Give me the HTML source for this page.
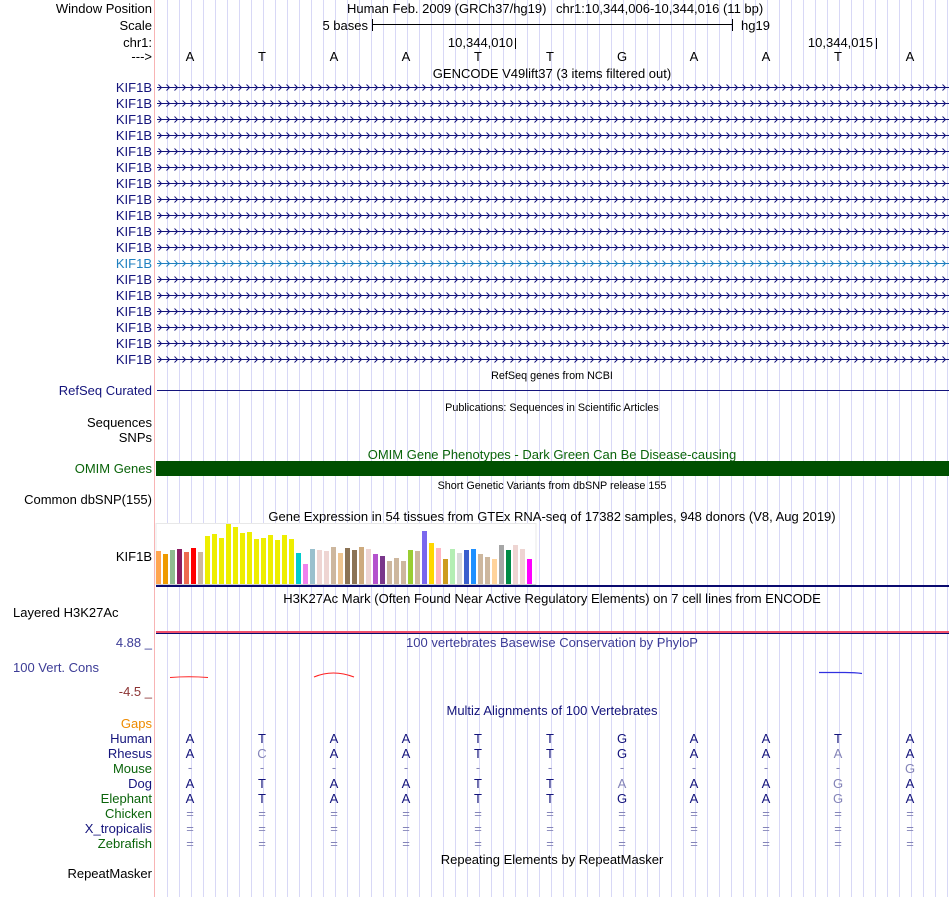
<!DOCTYPE html>
<html><head><meta charset="utf-8">
<style>
body{margin:0;background:#fff}
svg{display:block}
text{font-family:"Liberation Sans",Arial,sans-serif;font-size:13px}
.s{font-size:10.8px}
.nv{fill:#14147c}
.lb{fill:#8484b8}
.gr{fill:#0a640a}
.pc{fill:#3c3c96}
</style></head>
<body>
<svg width="950" height="897" xmlns="http://www.w3.org/2000/svg">
<defs>
<pattern id="grid" patternUnits="userSpaceOnUse" x="167" y="0" width="12" height="10">
<rect x="0" y="0" width="1" height="10" fill="#d8d8f6"/>
</pattern>
<pattern id="cv" patternUnits="userSpaceOnUse" x="157" y="79" width="8" height="16">
<path d="M1.5,5.5 L4.5,8.5 L1.5,11.5" stroke="#14147c" fill="none" stroke-width="1"/>
</pattern>
<pattern id="cv2" patternUnits="userSpaceOnUse" x="157" y="79" width="8" height="16">
<path d="M1.5,5.5 L4.5,8.5 L1.5,11.5" stroke="#2080c0" fill="none" stroke-width="1"/>
</pattern>
</defs>
<rect width="950" height="897" fill="#fff"/>
<rect x="157" y="0" width="793" height="897" fill="url(#grid)"/>
<rect x="154" y="0" width="1" height="897" fill="#f8b4b4"/>

<!-- header -->
<text x="152" y="13" text-anchor="end">Window Position</text>
<text x="347" y="13">Human Feb. 2009 (GRCh37/hg19)</text>
<text x="556" y="13">chr1:10,344,006-10,344,016 (11 bp)</text>
<text x="152" y="30" text-anchor="end">Scale</text>
<text x="368" y="30" text-anchor="end">5 bases</text>
<rect x="372" y="24" width="361" height="1" fill="#000"/>
<rect x="372" y="19" width="1" height="12" fill="#000"/>
<rect x="732" y="19" width="1" height="12" fill="#000"/>
<text x="741" y="30">hg19</text>
<text x="152" y="47" text-anchor="end">chr1:</text>
<text x="513" y="47" text-anchor="end">10,344,010</text>
<rect x="515" y="38" width="1" height="11" fill="#000"/>
<text x="873" y="47" text-anchor="end">10,344,015</text>
<rect x="876" y="38" width="1" height="11" fill="#000"/>
<text x="152" y="61" text-anchor="end">---&gt;</text>
<g text-anchor="middle">
<text x="190" y="61">A</text><text x="262" y="61">T</text><text x="334" y="61">A</text><text x="406" y="61">A</text><text x="478" y="61">T</text><text x="550" y="61">T</text><text x="622" y="61">G</text><text x="694" y="61">A</text><text x="766" y="61">A</text><text x="838" y="61">T</text><text x="910" y="61">A</text>
</g>
<text x="552" y="78" text-anchor="middle">GENCODE V49lift37 (3 items filtered out)</text>

<!-- KIF1B rows -->
<rect x="157" y="79" width="792" height="176" fill="url(#cv)"/>
<rect x="157" y="255" width="792" height="16" fill="url(#cv2)"/>
<rect x="157" y="271" width="792" height="96" fill="url(#cv)"/>
<g fill="#14147c">
<rect x="157" y="87" width="792" height="1"/><rect x="157" y="103" width="792" height="1"/><rect x="157" y="119" width="792" height="1"/><rect x="157" y="135" width="792" height="1"/><rect x="157" y="151" width="792" height="1"/><rect x="157" y="167" width="792" height="1"/><rect x="157" y="183" width="792" height="1"/><rect x="157" y="199" width="792" height="1"/><rect x="157" y="215" width="792" height="1"/><rect x="157" y="231" width="792" height="1"/><rect x="157" y="247" width="792" height="1"/>
<rect x="157" y="279" width="792" height="1"/><rect x="157" y="295" width="792" height="1"/><rect x="157" y="311" width="792" height="1"/><rect x="157" y="327" width="792" height="1"/><rect x="157" y="343" width="792" height="1"/><rect x="157" y="359" width="792" height="1"/>
</g>
<rect x="157" y="263" width="792" height="1" fill="#2080c0"/>
<g text-anchor="end" class="nv">
<text x="152" y="92">KIF1B</text><text x="152" y="108">KIF1B</text><text x="152" y="124">KIF1B</text><text x="152" y="140">KIF1B</text><text x="152" y="156">KIF1B</text><text x="152" y="172">KIF1B</text><text x="152" y="188">KIF1B</text><text x="152" y="204">KIF1B</text><text x="152" y="220">KIF1B</text><text x="152" y="236">KIF1B</text><text x="152" y="252">KIF1B</text>
<text x="152" y="268" style="fill:#2080c0">KIF1B</text>
<text x="152" y="284">KIF1B</text><text x="152" y="300">KIF1B</text><text x="152" y="316">KIF1B</text><text x="152" y="332">KIF1B</text><text x="152" y="348">KIF1B</text><text x="152" y="364">KIF1B</text>
</g>

<!-- RefSeq -->
<text class="s" x="552" y="379" text-anchor="middle">RefSeq genes from NCBI</text>
<text class="nv" x="152" y="395" text-anchor="end">RefSeq Curated</text>
<rect x="157" y="390" width="792" height="1" fill="#14147c"/>
<text class="s" x="552" y="411" text-anchor="middle">Publications: Sequences in Scientific Articles</text>
<text x="152" y="427" text-anchor="end">Sequences</text>
<text x="152" y="442" text-anchor="end">SNPs</text>
<text class="gr" x="552" y="459" text-anchor="middle">OMIM Gene Phenotypes - Dark Green Can Be Disease-causing</text>
<text class="gr" x="152" y="473" text-anchor="end">OMIM Genes</text>
<rect x="156" y="461" width="793" height="15" fill="#005000"/>
<text class="s" x="552" y="489" text-anchor="middle">Short Genetic Variants from dbSNP release 155</text>
<text x="152" y="504" text-anchor="end">Common dbSNP(155)</text>

<!-- GTEx -->
<text x="552" y="521" text-anchor="middle">Gene Expression in 54 tissues from GTEx RNA-seq of 17382 samples, 948 donors (V8, Aug 2019)</text>
<rect x="156" y="523.5" width="380" height="61" fill="#fff" stroke="#e8e8e8" stroke-width="1"/>
<text x="152" y="561" text-anchor="end">KIF1B</text>
<g>
<rect x="156" y="551" width="5" height="33" fill="#FFA54F"/>
<rect x="163" y="554" width="5" height="30" fill="#EE9A00"/>
<rect x="170" y="550" width="5" height="34" fill="#8FBC8F"/>
<rect x="177" y="549" width="5" height="35" fill="#8B1C62"/>
<rect x="184" y="552" width="5" height="32" fill="#EE6A50"/>
<rect x="191" y="548" width="5" height="36" fill="#FF0000"/>
<rect x="198" y="552" width="5" height="32" fill="#CDB79E"/>
<rect x="205" y="536" width="5" height="48" fill="#EEEE00"/>
<rect x="212" y="534" width="5" height="50" fill="#EEEE00"/>
<rect x="219" y="538" width="5" height="46" fill="#EEEE00"/>
<rect x="226" y="524" width="5" height="60" fill="#EEEE00"/>
<rect x="233" y="527" width="5" height="57" fill="#EEEE00"/>
<rect x="240" y="533" width="5" height="51" fill="#EEEE00"/>
<rect x="247" y="532" width="5" height="52" fill="#EEEE00"/>
<rect x="254" y="539" width="5" height="45" fill="#EEEE00"/>
<rect x="261" y="538" width="5" height="46" fill="#EEEE00"/>
<rect x="268" y="535" width="5" height="49" fill="#EEEE00"/>
<rect x="275" y="540" width="5" height="44" fill="#EEEE00"/>
<rect x="282" y="535" width="5" height="49" fill="#EEEE00"/>
<rect x="289" y="539" width="5" height="45" fill="#EEEE00"/>
<rect x="296" y="553" width="5" height="31" fill="#00CDCD"/>
<rect x="303" y="564" width="5" height="20" fill="#EE82EE"/>
<rect x="310" y="549" width="5" height="35" fill="#9AC0CD"/>
<rect x="317" y="550" width="5" height="34" fill="#EED5D2"/>
<rect x="324" y="551" width="5" height="33" fill="#EED5D2"/>
<rect x="331" y="547" width="5" height="37" fill="#CDB79E"/>
<rect x="338" y="553" width="5" height="31" fill="#EEC591"/>
<rect x="345" y="548" width="5" height="36" fill="#8B7355"/>
<rect x="352" y="550" width="5" height="34" fill="#8B7355"/>
<rect x="359" y="547" width="5" height="37" fill="#CDAA7D"/>
<rect x="366" y="549" width="5" height="35" fill="#EED5D2"/>
<rect x="373" y="554" width="5" height="30" fill="#B452CD"/>
<rect x="380" y="556" width="5" height="28" fill="#7A378B"/>
<rect x="387" y="561" width="5" height="23" fill="#CDB79E"/>
<rect x="394" y="558" width="5" height="26" fill="#CDB79E"/>
<rect x="401" y="561" width="5" height="23" fill="#CDB79E"/>
<rect x="408" y="550" width="5" height="34" fill="#9ACD32"/>
<rect x="415" y="551" width="5" height="33" fill="#CDB79E"/>
<rect x="422" y="531" width="5" height="53" fill="#7A67EE"/>
<rect x="429" y="543" width="5" height="41" fill="#FFD700"/>
<rect x="436" y="548" width="5" height="36" fill="#FFB6C1"/>
<rect x="443" y="559" width="5" height="25" fill="#CD9B1D"/>
<rect x="450" y="549" width="5" height="35" fill="#B4EEB4"/>
<rect x="457" y="553" width="5" height="31" fill="#D9D9D9"/>
<rect x="464" y="550" width="5" height="34" fill="#3A5FCD"/>
<rect x="471" y="549" width="5" height="35" fill="#1E90FF"/>
<rect x="478" y="554" width="5" height="30" fill="#CDB79E"/>
<rect x="485" y="557" width="5" height="27" fill="#CDB79E"/>
<rect x="492" y="559" width="5" height="25" fill="#FFD39B"/>
<rect x="499" y="545" width="5" height="39" fill="#A6A6A6"/>
<rect x="506" y="550" width="5" height="34" fill="#008B45"/>
<rect x="513" y="545" width="5" height="39" fill="#EED5D2"/>
<rect x="520" y="549" width="5" height="35" fill="#EED5D2"/>
<rect x="527" y="559" width="5" height="25" fill="#FF00FF"/>
</g>
<rect x="156" y="584" width="380" height="1" fill="#d0d0d0"/>
<rect x="156" y="585" width="793" height="2" fill="#0a0a6e"/>

<!-- H3K27Ac -->
<text x="552" y="603" text-anchor="middle">H3K27Ac Mark (Often Found Near Active Regulatory Elements) on 7 cell lines from ENCODE</text>
<text x="13" y="617">Layered H3K27Ac</text>
<rect x="156" y="631" width="793" height="2" fill="#f0506a"/>
<rect x="156" y="633" width="793" height="1" fill="#0a0a6e"/>

<!-- phyloP -->
<text class="pc" x="152" y="647" text-anchor="end">4.88 _</text>
<text class="pc" x="552" y="647" text-anchor="middle">100 vertebrates Basewise Conservation by PhyloP</text>
<text class="pc" x="13" y="672">100 Vert. Cons</text>
<text x="152" y="696" text-anchor="end" fill="#8c3434">-4.5 _</text>
<path d="M170,677.5 Q189,676 208,677.5" stroke="#ff2020" fill="none" stroke-width="0.9"/>
<path d="M314,677 Q333,669 354,677" stroke="#ff2020" fill="none" stroke-width="1"/>
<path d="M819,672.5 L845,672.5 Q855,672.5 862,673.5" stroke="#3030e0" fill="none" stroke-width="1.2"/>

<!-- Multiz -->
<text class="nv" x="552" y="715" text-anchor="middle">Multiz Alignments of 100 Vertebrates</text>
<text x="152" y="728" text-anchor="end" fill="#ee8a00">Gaps</text>
<g text-anchor="end">
<text class="nv" x="152" y="743">Human</text>
<text class="nv" x="152" y="758">Rhesus</text>
<text class="gr" x="152" y="773">Mouse</text>
<text class="nv" x="152" y="788">Dog</text>
<text class="gr" x="152" y="803">Elephant</text>
<text class="gr" x="152" y="818">Chicken</text>
<text class="nv" x="152" y="833">X_tropicalis</text>
<text class="gr" x="152" y="848">Zebrafish</text>
</g>
<g text-anchor="middle">
<g class="nv">
<text x="190" y="743">A</text><text x="262" y="743">T</text><text x="334" y="743">A</text><text x="406" y="743">A</text><text x="478" y="743">T</text><text x="550" y="743">T</text><text x="622" y="743">G</text><text x="694" y="743">A</text><text x="766" y="743">A</text><text x="838" y="743">T</text><text x="910" y="743">A</text>
</g>
<g class="nv">
<text x="190" y="758">A</text><text x="262" y="758" class="lb">C</text><text x="334" y="758">A</text><text x="406" y="758">A</text><text x="478" y="758">T</text><text x="550" y="758">T</text><text x="622" y="758">G</text><text x="694" y="758">A</text><text x="766" y="758">A</text><text x="838" y="758" class="lb">A</text><text x="910" y="758">A</text>
</g>
<g class="lb">
<text x="190" y="772">-</text><text x="262" y="772">-</text><text x="334" y="772">-</text><text x="406" y="772">-</text><text x="478" y="772">-</text><text x="550" y="772">-</text><text x="622" y="772">-</text><text x="694" y="772">-</text><text x="766" y="772">-</text><text x="838" y="772">-</text><text x="910" y="773">G</text>
</g>
<g class="nv">
<text x="190" y="788">A</text><text x="262" y="788">T</text><text x="334" y="788">A</text><text x="406" y="788">A</text><text x="478" y="788">T</text><text x="550" y="788">T</text><text x="622" y="788" class="lb">A</text><text x="694" y="788">A</text><text x="766" y="788">A</text><text x="838" y="788" class="lb">G</text><text x="910" y="788">A</text>
</g>
<g class="nv">
<text x="190" y="803">A</text><text x="262" y="803">T</text><text x="334" y="803">A</text><text x="406" y="803">A</text><text x="478" y="803">T</text><text x="550" y="803">T</text><text x="622" y="803">G</text><text x="694" y="803">A</text><text x="766" y="803">A</text><text x="838" y="803" class="lb">G</text><text x="910" y="803">A</text>
</g>
<g class="lb">
<text x="190" y="818">=</text><text x="262" y="818">=</text><text x="334" y="818">=</text><text x="406" y="818">=</text><text x="478" y="818">=</text><text x="550" y="818">=</text><text x="622" y="818">=</text><text x="694" y="818">=</text><text x="766" y="818">=</text><text x="838" y="818">=</text><text x="910" y="818">=</text>
<text x="190" y="833">=</text><text x="262" y="833">=</text><text x="334" y="833">=</text><text x="406" y="833">=</text><text x="478" y="833">=</text><text x="550" y="833">=</text><text x="622" y="833">=</text><text x="694" y="833">=</text><text x="766" y="833">=</text><text x="838" y="833">=</text><text x="910" y="833">=</text>
<text x="190" y="848">=</text><text x="262" y="848">=</text><text x="334" y="848">=</text><text x="406" y="848">=</text><text x="478" y="848">=</text><text x="550" y="848">=</text><text x="622" y="848">=</text><text x="694" y="848">=</text><text x="766" y="848">=</text><text x="838" y="848">=</text><text x="910" y="848">=</text>
</g>
</g>

<!-- RepeatMasker -->
<text x="552" y="864" text-anchor="middle">Repeating Elements by RepeatMasker</text>
<text x="152" y="878" text-anchor="end">RepeatMasker</text>
</svg>
</body></html>
